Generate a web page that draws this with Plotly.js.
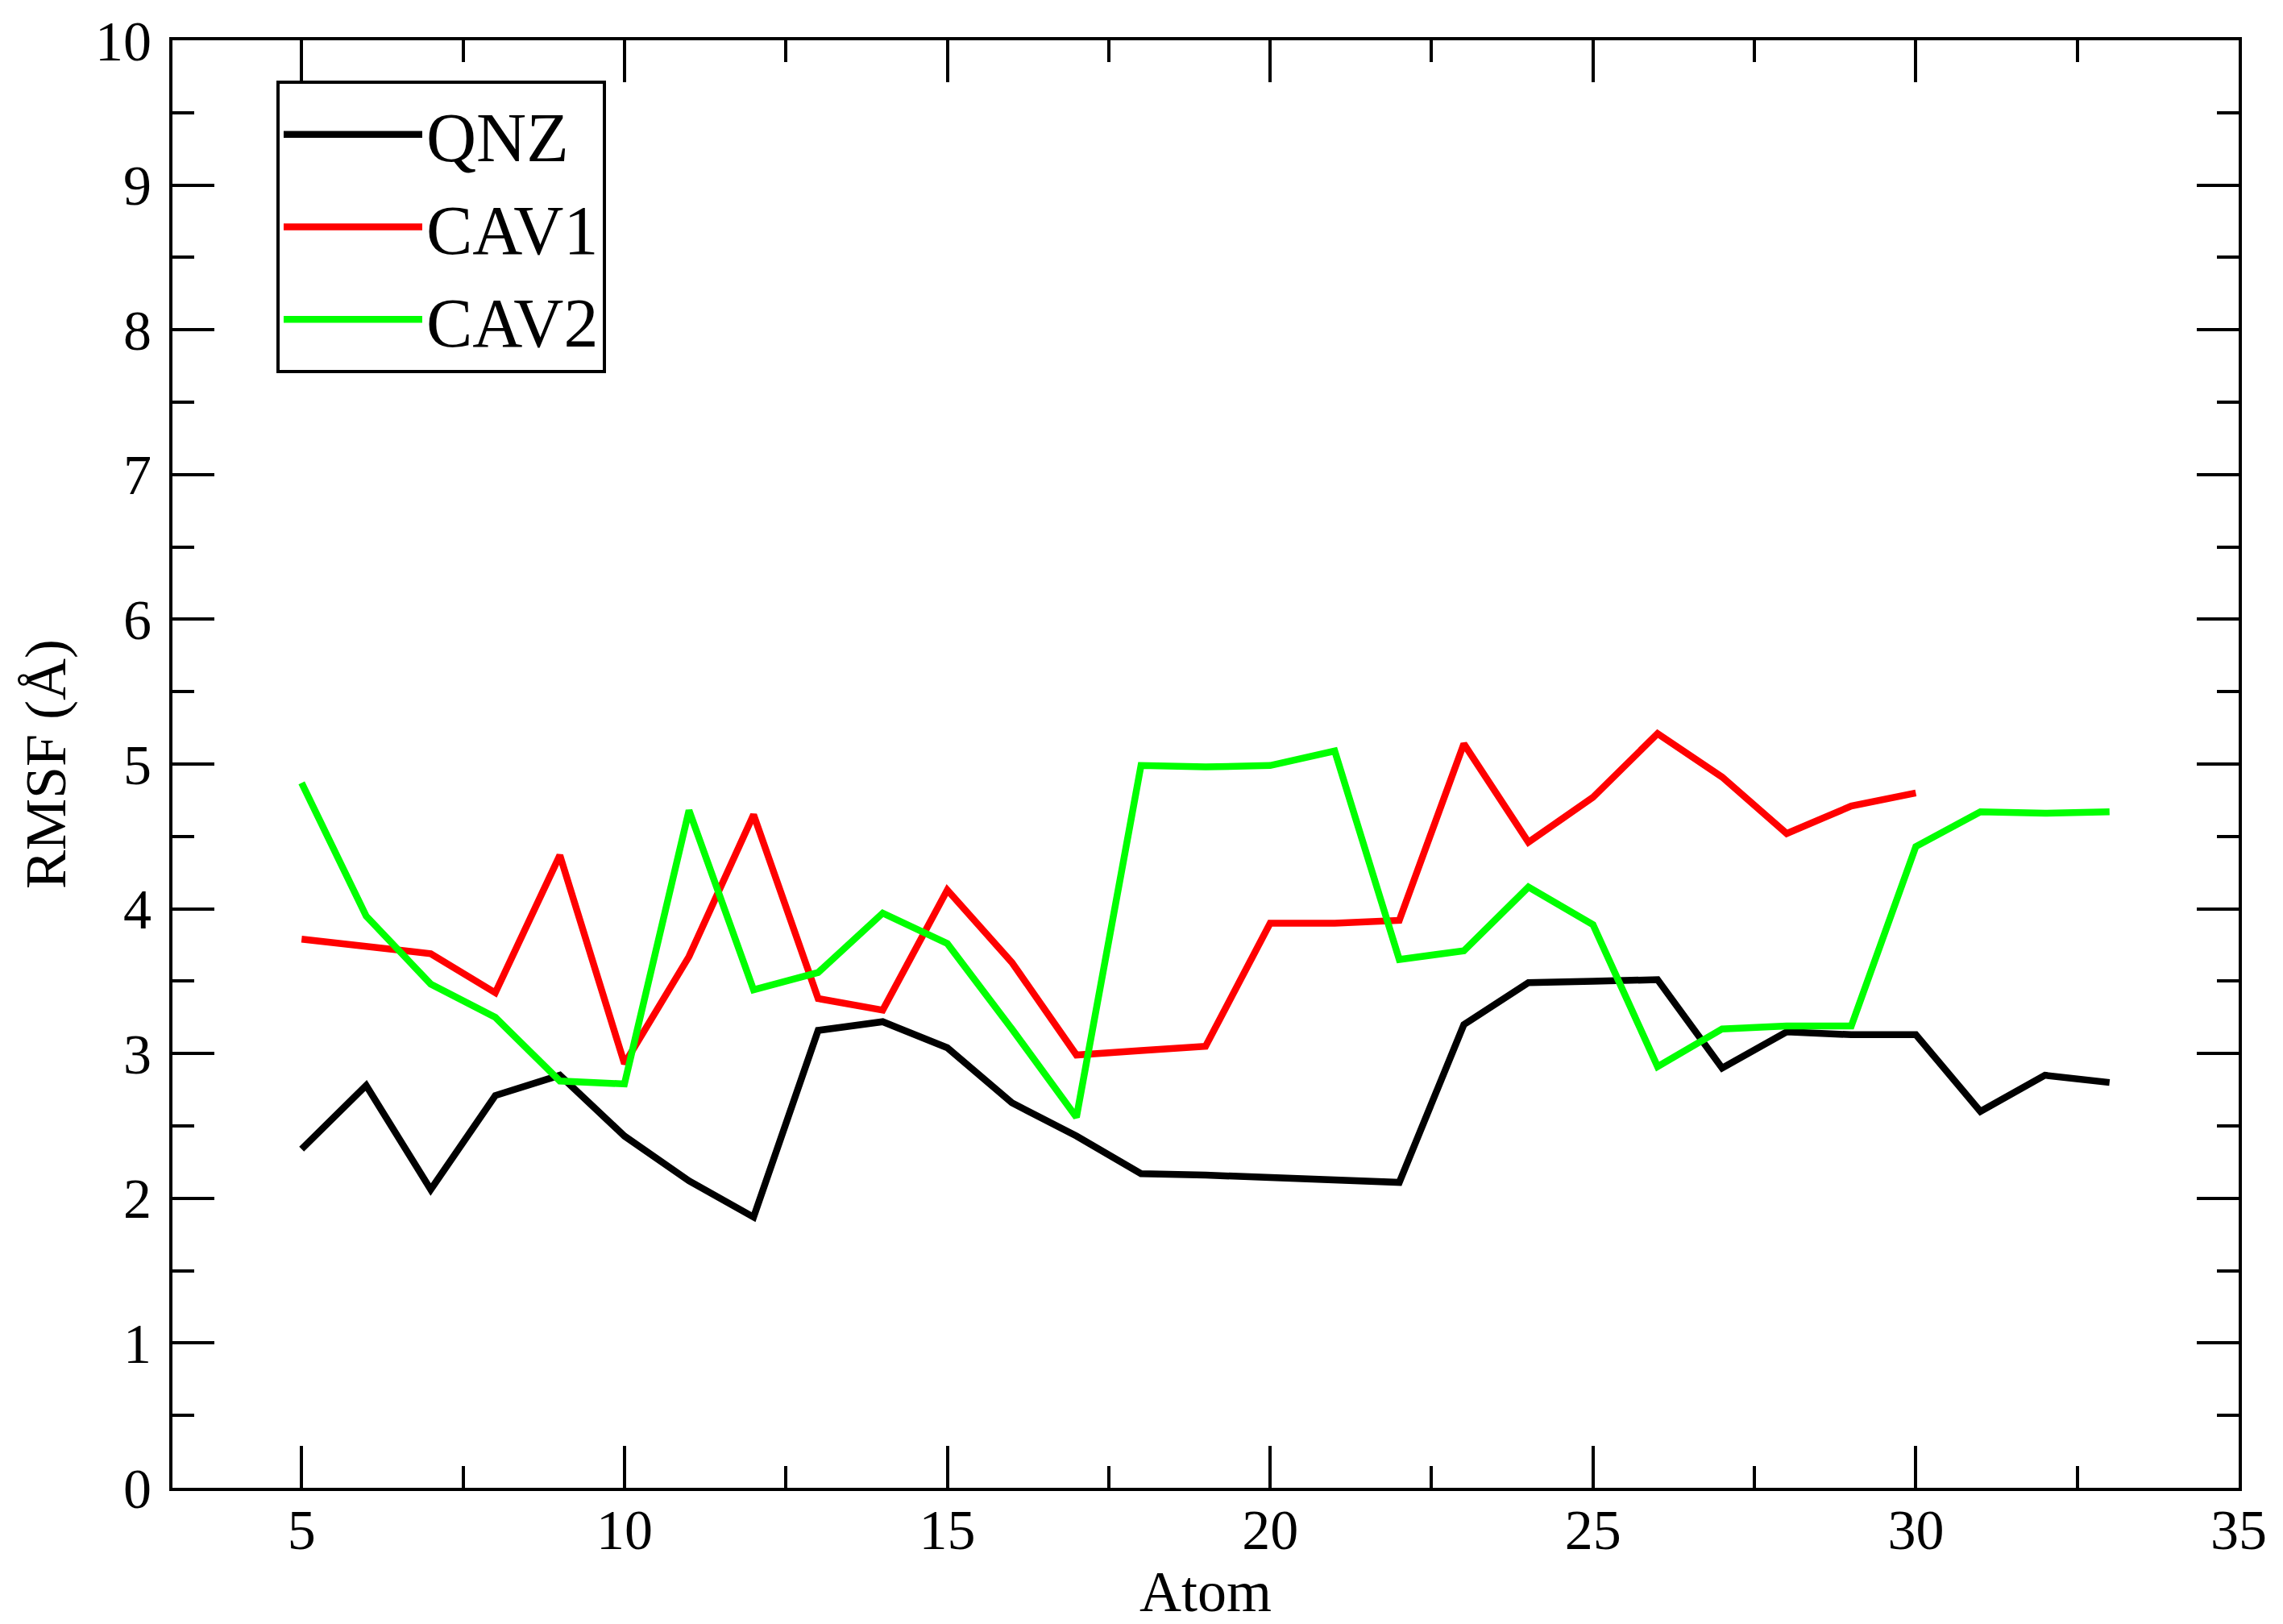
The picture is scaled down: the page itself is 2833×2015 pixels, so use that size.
<!DOCTYPE html>
<html>
<head>
<meta charset="utf-8">
<script src="https://cdn.plot.ly/plotly-3.0.1.min.js"></script>
<style>
  html, body { margin: 0; padding: 0; background: #fff; }
  #chart { width: 2833px; height: 2015px; }
</style>
</head>
<body>
<div id="chart"></div>
<script>
"use strict"
// atom indices for each series
let atoms_qnz = [5, 6, 7, 8, 9, 10, 11, 12, 13, 14, 15, 16, 17, 18, 19, 20, 21, 22, 23, 24, 25, 26, 27, 28, 29, 30, 31, 32, 33];
let atoms_cav1 = [5, 6, 7, 8, 9, 10, 11, 12, 13, 14, 15, 16, 17, 18, 19, 20, 21, 22, 23, 24, 25, 26, 27, 28, 29, 30];
let atoms_cav2 = [5, 6, 7, 8, 9, 10, 11, 12, 13, 14, 15, 16, 17, 18, 19, 20, 21, 22, 23, 24, 25, 26, 27, 28, 29, 30, 31, 32, 33];

// RMSF values (Å)
let rmsf_qnz = [2.34, 2.78, 2.06, 2.71, 2.85, 2.43, 2.12, 1.87, 3.16, 3.22, 3.04, 2.66, 2.43, 2.17, 2.16, 2.14, 2.12, 2.11, 3.20, 3.49, 3.50, 3.51, 2.90, 3.15, 3.13, 3.13, 2.60, 2.85, 2.80];
let rmsf_cav1 = [3.79, 3.74, 3.69, 3.42, 4.37, 2.93, 3.67, 4.65, 3.38, 3.30, 4.13, 3.63, 2.99, 3.02, 3.05, 3.90, 3.90, 3.92, 5.14, 4.46, 4.77, 5.21, 4.91, 4.52, 4.71, 4.80];
let rmsf_cav2 = [4.87, 3.95, 3.48, 3.25, 2.81, 2.79, 4.68, 3.44, 3.56, 3.97, 3.76, 3.17, 2.56, 4.99, 4.98, 4.99, 5.09, 3.65, 3.71, 4.15, 3.89, 2.91, 3.17, 3.19, 3.19, 4.43, 4.67, 4.66, 4.67];

let series_names = ["QNZ", "CAV1", "CAV2"];
let series_colors = ["#000000", "#ff0000", "#00ff00"];

let font_family = "'Liberation Serif', 'Times New Roman', serif";

function make_trace(x, y, i) {
    return {
        x: x,
        y: y,
        type: "scatter",
        mode: "lines",
        name: series_names[i],
        line: { color: series_colors[i], width: 8.5 }
    };
}

let data = [
    make_trace(atoms_qnz, rmsf_qnz, 0),
    make_trace(atoms_cav1, rmsf_cav1, 1),
    make_trace(atoms_cav2, rmsf_cav2, 2)
];

let axis_common = {
    showline: true,
    linecolor: "#000",
    linewidth: 4,
    mirror: "ticks",
    ticks: "inside",
    ticklen: 52,
    tickwidth: 4,
    tickcolor: "#000",
    showgrid: false,
    zeroline: false,
    tickfont: { family: font_family, size: 70, color: "#000" }
};

let layout = {
    width: 2833,
    height: 2015,
    paper_bgcolor: "#fff",
    plot_bgcolor: "#fff",
    margin: { l: 214, r: 55, t: 50, b: 169 },
    showlegend: true,
    legend: {
        x: 0.0503,
        y: 0.972,
        xanchor: "left",
        yanchor: "top",
        bgcolor: "#fff",
        bordercolor: "#000",
        borderwidth: 4,
        itemwidth: 172,
        font: { family: font_family, size: 86, color: "#000" }
    },
    xaxis: Object.assign({}, axis_common, {
        range: [3, 35],
        tick0: 0,
        dtick: 5,
        ticklabelstandoff: -12,
        minor: { ticks: "inside", ticklen: 27, tickwidth: 4, tickcolor: "#000", dtick: 2.5, tick0: 0 },
        title: { text: "Atom", standoff: 24, font: { family: font_family, size: 72, color: "#000" } }
    }),
    yaxis: Object.assign({}, axis_common, {
        range: [0, 10],
        tick0: 0,
        dtick: 1,
        ticklabelstandoff: 8,
        minor: { ticks: "inside", ticklen: 27, tickwidth: 4, tickcolor: "#000", dtick: 0.5, tick0: 0 },
        title: { text: "RMSF (Å)", standoff: 14, font: { family: font_family, size: 72, color: "#000" } }
    })
};

Plotly.newPlot("chart", data, layout, { displayModeBar: false, staticPlot: true });
</script>
</body>
</html>
